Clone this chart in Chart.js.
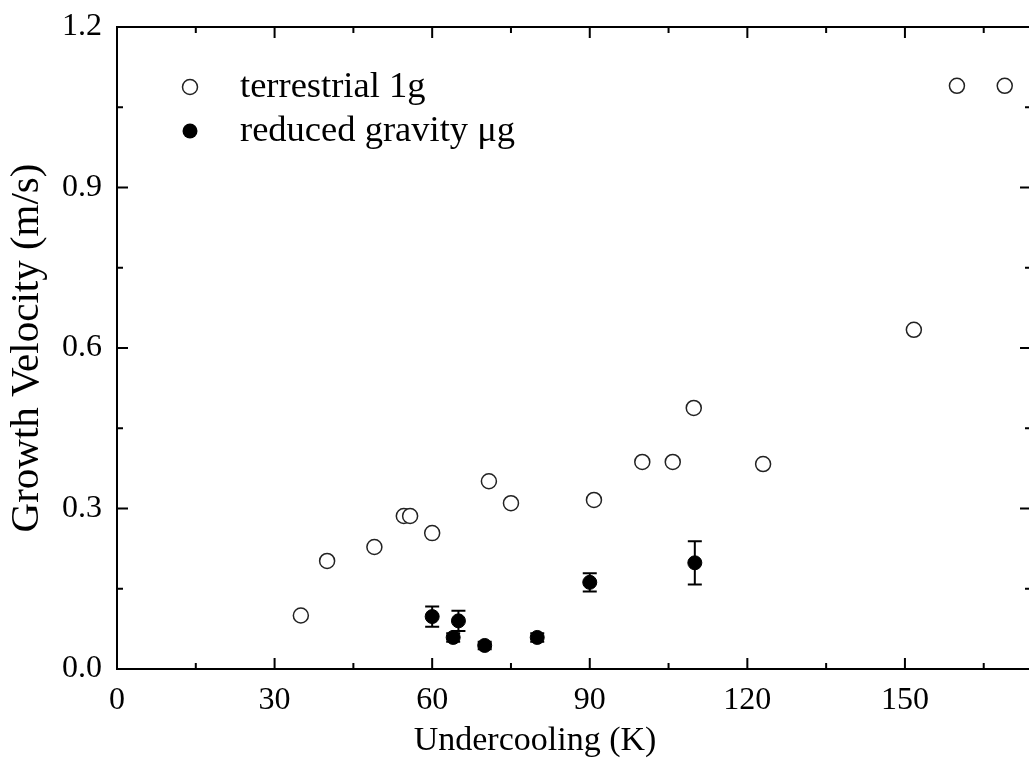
<!DOCTYPE html>
<html>
<head>
<meta charset="utf-8">
<script src="https://cdn.jsdelivr.net/npm/chart.js@4.4.1/dist/chart.umd.min.js"></script>
<style>
html,body{margin:0;padding:0;background:#fff;overflow:hidden;width:1029px;height:759px}
#c{display:block}
</style>
</head>
<body>
<canvas id="c" width="1040" height="759" style="width:1040px;height:759px"></canvas>
<script>
// ---- data ----
const xTickValues = [0, 30, 60, 90, 120, 150];
const yTickValues = [0, 0.3, 0.6, 0.9, 1.2];
const yTickLabels = ['0.0', '0.3', '0.6', '0.9', '1.2'];

const seriesNames = ['terrestrial 1g', 'reduced gravity \u03bcg'];
const xTitle = 'Undercooling (K)';
const yTitle = 'Growth Velocity (m/s)';

const terrestrialX = [35, 40, 49, 54.6, 55.8, 60, 70.8, 75, 90.8, 100, 105.8, 109.8, 123, 151.7, 159.9, 169];
const terrestrialY = [0.100, 0.202, 0.228, 0.286, 0.286, 0.254, 0.351, 0.310, 0.316, 0.387, 0.387, 0.488, 0.383, 0.634, 1.090, 1.090];

const reducedX = [60, 64, 65, 70, 80, 90, 110];
const reducedY = [0.098, 0.059, 0.090, 0.044, 0.059, 0.162, 0.1985];
const reducedErr = [0.019, 0.008, 0.019, 0.007, 0.008, 0.017, 0.0405];

const FONT = "'Liberation Serif', 'Times New Roman', serif";

// ---- plugins ----
const framePlugin = {
  id: 'frame',
  beforeDatasetsDraw(chart) {
    const {ctx, chartArea: a, scales: {x, y}} = chart;
    ctx.save();
    ctx.strokeStyle = '#000';
    ctx.lineWidth = 2;
    ctx.strokeRect(a.left, a.top, a.right - a.left, a.bottom - a.top);
    const xStep = 15, yStep = 0.15;
    ctx.beginPath();
    for (let v = 0; v <= x.max + 1e-9; v += xStep) {
      const px = x.getPixelForValue(v);
      const major = Math.abs(v / 30 - Math.round(v / 30)) < 1e-6;
      const len = major ? 11 : 6;
      ctx.moveTo(px, a.bottom); ctx.lineTo(px, a.bottom - len);
      ctx.moveTo(px, a.top); ctx.lineTo(px, a.top + len);
    }
    for (let k = 0; k <= 8; k++) {
      const py = y.getPixelForValue(k * yStep);
      const len = (k % 2 === 0) ? 11 : 6;
      ctx.moveTo(a.left, py); ctx.lineTo(a.left + len, py);
      ctx.moveTo(a.right, py); ctx.lineTo(a.right - len, py);
    }
    ctx.stroke();
    ctx.restore();
  }
};

const errorBarPlugin = {
  id: 'errorBars',
  beforeDatasetsDraw(chart) {
    const {ctx, scales: {x, y}} = chart;
    ctx.save();
    ctx.strokeStyle = '#000';
    ctx.lineWidth = 2;
    ctx.beginPath();
    reducedX.forEach((xv, i) => {
      const e = reducedErr[i];
      const px = x.getPixelForValue(xv);
      const top = y.getPixelForValue(reducedY[i] + e);
      const bot = y.getPixelForValue(reducedY[i] - e);
      ctx.moveTo(px, top); ctx.lineTo(px, bot);
      ctx.moveTo(px - 7, top); ctx.lineTo(px + 7, top);
      ctx.moveTo(px - 7, bot); ctx.lineTo(px + 7, bot);
    });
    ctx.stroke();
    ctx.restore();
  }
};

const textPlugin = {
  id: 'texts',
  afterDraw(chart) {
    const {ctx} = chart;
    ctx.save();
    ctx.fillStyle = '#000';
    ctx.font = '34px ' + FONT;
    ctx.textAlign = 'center';
    ctx.textBaseline = 'alphabetic';
    ctx.fillText(xTitle, 535, 750);
    // legend
    ctx.textAlign = 'left';
    ctx.font = '36.5px ' + FONT;
    ctx.beginPath();
    ctx.arc(190, 87, 7.5, 0, Math.PI * 2);
    ctx.fillStyle = '#fff';
    ctx.fill();
    ctx.lineWidth = 1.5;
    ctx.strokeStyle = '#222';
    ctx.stroke();
    ctx.fillStyle = '#000';
    ctx.fillText(seriesNames[0], 240, 97);
    ctx.beginPath();
    ctx.arc(190, 131, 7.5, 0, Math.PI * 2);
    ctx.fillStyle = '#000';
    ctx.fill();
    ctx.fillText(seriesNames[1], 240, 141);
    ctx.restore();
  }
};

// ---- chart ----
new Chart(document.getElementById('c'), {
  type: 'scatter',
  data: {
    datasets: [
      {
        label: seriesNames[0],
        data: terrestrialX.map((v, i) => ({x: v, y: terrestrialY[i]})),
        pointStyle: 'circle',
        pointRadius: 7.5,
        pointBackgroundColor: '#fff',
        pointBorderColor: '#222',
        pointBorderWidth: 1.5,
        showLine: false
      },
      {
        label: seriesNames[1],
        data: reducedX.map((v, i) => ({x: v, y: reducedY[i]})),
        pointStyle: 'circle',
        pointRadius: 7,
        pointBackgroundColor: '#000',
        pointBorderColor: '#000',
        pointBorderWidth: 1,
        showLine: false
      }
    ]
  },
  options: {
    responsive: false,
    animation: false,
    layout: {padding: {top: 27, right: 0, left: 0, bottom: 0}},
    plugins: {legend: {display: false}, tooltip: {enabled: false}},
    scales: {
      x: {
        type: 'linear',
        min: 0,
        max: 174,
        afterBuildTicks: s => { s.ticks = xTickValues.map(v => ({value: v})); },
        afterFit: s => { s.height = 90; s.paddingLeft = 0; s.paddingRight = 0; },
        grid: {display: false, drawTicks: false},
        border: {display: false},
        ticks: {
          color: '#000',
          font: {family: FONT, size: 32},
          padding: 12,
          maxRotation: 0,
          autoSkip: false,
          callback: v => String(v)
        },
        title: {display: false}
      },
      y: {
        type: 'linear',
        min: 0,
        max: 1.2,
        afterBuildTicks: s => { s.ticks = yTickValues.map(v => ({value: v})); },
        afterFit: s => { s.width = 117; s.paddingTop = 0; s.paddingBottom = 0; },
        grid: {display: false, drawTicks: false},
        border: {display: false},
        ticks: {
          color: '#000',
          font: {family: FONT, size: 32},
          padding: 15,
          autoSkip: false,
          callback: (v, i) => yTickLabels[i]
        },
        title: {
          display: true,
          text: yTitle,
          color: '#000',
          font: {family: FONT, size: 41},
          padding: {top: 3, bottom: 0}
        }
      }
    }
  },
  plugins: [framePlugin, errorBarPlugin, textPlugin]
});
</script>
</body>
</html>
